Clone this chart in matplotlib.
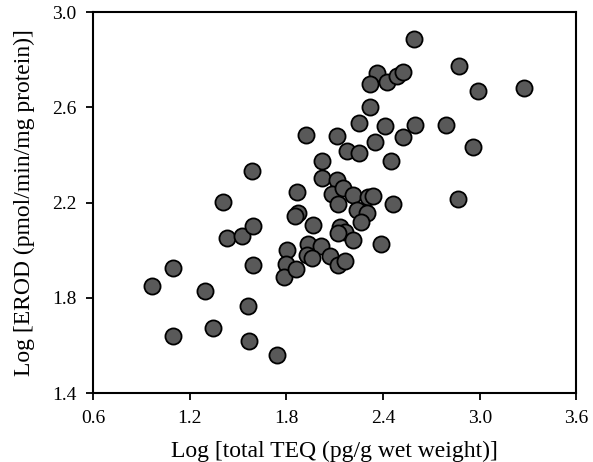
import matplotlib
matplotlib.use("Agg")
import matplotlib.pyplot as plt

# Log total TEQ (x) and Log EROD (y)
log_teq = [0.964, 1.095, 1.095, 1.295, 1.343, 1.409, 1.430, 1.523, 1.595, 1.589,
           1.591, 1.562, 1.568, 1.744, 1.802, 1.795, 1.788, 1.858, 1.864, 1.874,
           1.854, 1.922, 1.968, 1.937, 2.012, 1.926, 1.957, 2.071, 2.123, 2.164,
           2.023, 2.023, 2.112, 2.081, 2.154, 2.117, 2.179, 2.250, 2.250, 2.320,
           2.413, 2.599, 2.791, 2.526, 2.350, 2.448, 2.961, 2.594, 2.874, 2.988,
           3.277, 2.363, 2.320, 2.425, 2.485, 2.526, 2.123, 2.216, 2.309, 2.338,
           2.464, 2.862, 2.237, 2.299, 2.265, 2.133, 2.164, 2.123, 2.216, 2.388]
log_erod = [1.849, 1.926, 1.640, 1.828, 1.672, 2.203, 2.052, 2.059, 2.101, 2.332,
            1.937, 1.765, 1.618, 1.559, 2.000, 1.944, 1.886, 1.920, 2.245, 2.155,
            2.145, 2.483, 2.105, 2.028, 2.019, 1.979, 1.966, 1.977, 1.937, 1.956,
            2.376, 2.303, 2.296, 2.238, 2.262, 2.479, 2.416, 2.408, 2.532, 2.600,
            2.521, 2.525, 2.525, 2.477, 2.455, 2.376, 2.434, 2.885, 2.775, 2.670,
            2.681, 2.746, 2.697, 2.706, 2.730, 2.749, 2.195, 2.232, 2.222, 2.228,
            2.195, 2.213, 2.168, 2.156, 2.117, 2.099, 2.075, 2.071, 2.042, 2.026]

x_ticks = [0.6, 1.2, 1.8, 2.4, 3.0, 3.6]
y_ticks = [1.4, 1.8, 2.2, 2.6, 3.0]

plt.rcParams['font.family'] = ['Liberation Serif', 'DejaVu Serif']

fig = plt.figure(figsize=(5.93, 4.62), dpi=100)
ax = fig.add_axes([0.157, 0.149, 0.815, 0.825])

ax.scatter(log_teq, log_erod, s=135, facecolor='#595959', edgecolor='black',
           linewidth=1.3, zorder=3, clip_on=False)

ax.set_xlim(0.6, 3.6)
ax.set_ylim(1.4, 3.0)
ax.set_xticks(x_ticks)
ax.set_yticks(y_ticks)
ax.set_xticklabels(['%.1f' % v for v in x_ticks])
ax.set_yticklabels(['%.1f' % v for v in y_ticks])
ax.tick_params(direction='out', length=5, width=1.3, labelsize=14, pad=7)

for sp in ax.spines.values():
    sp.set_linewidth(1.5)

ax.set_xlabel('Log [total TEQ (pg/g wet weight)]', fontsize=17, labelpad=10)
ax.set_ylabel('Log [EROD (pmol/min/mg protein)]', fontsize=17, labelpad=12)

fig.savefig('out.png', dpi=100)
